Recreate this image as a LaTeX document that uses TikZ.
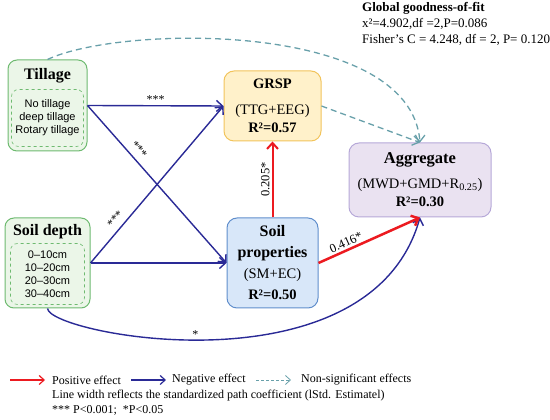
\documentclass[tikz,border=0pt]{standalone}
\usepackage{fontspec}
\setmainfont{Liberation Serif}
\setsansfont{Liberation Sans}
\usetikzlibrary{arrows.meta,positioning,calc}
\definecolor{factorgreen}{RGB}{110,186,112}
\definecolor{factorfill}{RGB}{235,246,232}
\definecolor{grspborder}{RGB}{242,196,92}
\definecolor{grspfill}{RGB}{255,241,202}
\definecolor{soilborder}{RGB}{96,142,204}
\definecolor{soilfill}{RGB}{216,231,249}
\definecolor{aggborder}{RGB}{182,168,216}
\definecolor{aggfill}{RGB}{234,226,241}
\definecolor{negblue}{RGB}{42,42,150}
\definecolor{posred}{RGB}{236,26,32}
\definecolor{nsteal}{RGB}{104,160,170}
\tikzset{
    % Factor frame styles
    factor/.style={
        rectangle, draw=factorgreen, line width=1pt, fill=factorfill,
        rounded corners=9pt
    },
    factortitle/.style={
        font=\fontsize{16}{19}\selectfont\bfseries, inner sep=0pt
    },
    levels/.style={
        rectangle, draw=factorgreen, dashed, line width=0.6pt,
        rounded corners=7pt, align=center,
        font=\sffamily\fontsize{11}{13}\selectfont
    },
    % Response variable boxes
    response/.style={
        rectangle, line width=1pt, rounded corners=10pt, align=center,
        font=\fontsize{14.5}{18}\selectfont
    },
    % Path styles
    negpath/.style={->, draw=negblue, line width=1.4pt},
    pospath/.style={->, draw=posred, line width=2pt},
    nspath/.style={->, draw=nsteal, line width=1.3pt, dash pattern=on 6pt off 4pt},
    starlabel/.style={font=\fontsize{12}{14}\selectfont, inner sep=1pt},
    coeflabel/.style={font=\fontsize{12.5}{14}\selectfont, inner sep=2pt},
    legendtext/.style={anchor=west, font=\fontsize{12}{14}\selectfont, inner sep=0pt}
}

\begin{document}
\begin{tikzpicture}[x=1pt, y=1pt, >={Straight Barb[length=6pt,width=11pt]}]
\useasboundingbox (0,0) rectangle (550,420);

% Fit statistics
\node[anchor=north west, align=left, inner sep=0pt, font=\fontsize{13}{16}\selectfont] (fit) at (362,418) {\textbf{Global goodness-of-fit}\\x²=4.902,df =2,P=0.086\\Fisher's C = 4.248, df = 2, P= 0.120};

% Tillage factor
\node[factor, minimum width=79pt, minimum height=91pt] (tillage) at (47.5,314.5) {};
\node[factortitle] (tilltitle) at ([yshift=-16pt]tillage.north) {Tillage};
\node[levels, minimum width=72pt, minimum height=57pt] (tilllevels) at ([yshift=-58.5pt]tillage.north) {No tillage\\deep tillage\\Rotary tillage};

% Soil depth factor
\node[factor, minimum width=85pt, minimum height=90pt] (soildepth) at (47.5,157) {};
\node[factortitle] (depthtitle) at ([yshift=-14pt]soildepth.north) {Soil depth};
\node[levels, minimum width=74pt, minimum height=61pt] (depthlevels) at ([yshift=-56.5pt]soildepth.north) {0–10cm\\10–20cm\\20–30cm\\30–40cm};

% Response variables
\node[response, draw=grspborder, fill=grspfill, minimum width=97pt, minimum height=70pt] (grsp) at (272.5,314) {{\fontsize{14.5}{18}\selectfont\bfseries GRSP}\\[8pt](TTG+EEG)\\\textbf{R²=0.57}};
\node[response, draw=soilborder, fill=soilfill, minimum width=91pt, minimum height=90pt] (soilprop) at (272.5,157) {{\fontsize{16}{18}\selectfont\bfseries Soil}\\[3pt]{\fontsize{16}{18}\selectfont\bfseries properties}\\[3pt](SM+EC)\\[3pt]\textbf{R²=0.50}};
\node[response, draw=aggborder, fill=aggfill, minimum width=142pt, minimum height=74pt] (aggregate) at (420,240) {{\fontsize{16.5}{18}\selectfont\bfseries Aggregate}\\[7pt](MWD+GMD+R\textsubscript{0.25})\\\textbf{R²=0.30}};

% Negative paths
\draw[negpath] (tillage.east) -- node[starlabel, above=1pt] {***} (grsp.west);
\draw[negpath] (tillage.east) -- node[starlabel, above=4pt, sloped, pos=0.32] {***} (soilprop.west);
\draw[negpath] (soildepth.east) -- node[starlabel, above=4pt, sloped, pos=0.24] {***} (grsp.west);
\draw[negpath] (soildepth.east) -- (soilprop.west);
\draw[negpath] (soildepth.south) .. controls (50,85) and (370,25) .. node[starlabel, above, pos=0.46] {*} (aggregate.south);

% Positive paths
\draw[pospath] (soilprop.north) -- node[coeflabel, above, sloped] {0.205*} (grsp.south);
\draw[pospath, line width=2.5pt] (soilprop.east) -- node[coeflabel, above, sloped, pos=0.3] {0.416*} (aggregate.south);

% Non-significant paths
\draw[nspath] (tillage.north) .. controls (120,395) and (410,400) .. (aggregate.north);
\draw[nspath] (grsp.east) -- (aggregate.north);

% Legend
\coordinate (posstart) at (10,40);
\coordinate (posend) at (45,40);
\draw[pospath, line width=1.2pt, >={Straight Barb[length=5pt,width=9pt]}] (posstart) -- (posend);
\node[legendtext] (postext) at (52,40) {Positive effect};
\coordinate (negstart) at (131,40);
\coordinate (negend) at (166,40);
\draw[negpath, line width=1.2pt, >={Straight Barb[length=5pt,width=9pt]}] (negstart) -- (negend);
\node[legendtext] (negtext) at (172,40) {Negative effect};
\coordinate (nsstart) at (256,40);
\coordinate (nsend) at (291,40);
\draw[nspath, line width=0.8pt, dash pattern=on 3pt off 2pt, >={Straight Barb[length=5pt,width=9pt]}] (nsstart) -- (nsend);
\node[legendtext] (nstext) at (301,40) {Non-significant effects};
\node[legendtext, anchor=north west, align=left, font=\fontsize{12}{15}\selectfont] (note) at (52,30) {Line width reflects the standardized path coefficient (lStd. Estimatel)\\*** P<0.001;\ \ *P<0.05};

\end{tikzpicture}
\end{document}
